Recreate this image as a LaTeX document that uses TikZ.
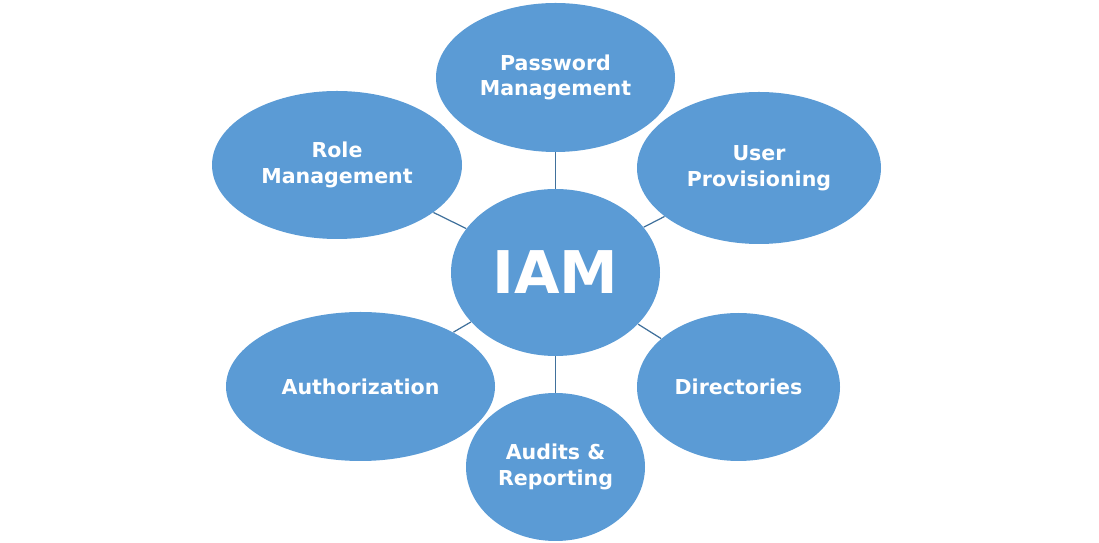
\documentclass[tikz,border=0pt]{standalone}
\usepackage{fontspec}
\setmainfont{DejaVu Sans}
\usetikzlibrary{shapes.geometric}
\definecolor{bubblefill}{HTML}{5B9BD5}
\definecolor{linkline}{HTML}{41719C}

\begin{document}
\begin{tikzpicture}[x=0.02cm, y=-0.02cm,
			every node/.style={font=\fontsize{11.7pt}{14.7pt}\selectfont\bfseries},
			b/.style={ellipse, fill=bubblefill, text=white, inner sep=0pt, align=center},
			link/.style={draw=linkline, line width=0.7pt}]
			\useasboundingbox (0,0) rectangle (1099,543);
			\node[b, minimum width=209*0.02cm, minimum height=167*0.02cm, font=\fontsize{33.5pt}{36pt}\selectfont\bfseries] (iam) at (555.5,272.5) {IAM};
			\node[b, minimum width=239*0.02cm, minimum height=149*0.02cm] (pw) at (555.5,77.5) {Password\\Management};
			\node[b, minimum width=244*0.02cm, minimum height=152*0.02cm] (up) at (759,168) {User\\Provisioning};
			\node[b, minimum width=203*0.02cm, minimum height=148*0.02cm] (dir) at (738.5,387) {Directories};
			\node[b, minimum width=179*0.02cm, minimum height=148*0.02cm] (aud) at (555.5,467) {Audits \&\\Reporting};
			\node[b, minimum width=269*0.02cm, minimum height=149*0.02cm] (auth) at (360.5,386.5) {Authorization};
			\node[b, minimum width=250*0.02cm, minimum height=148*0.02cm] (role) at (337,165) {Role\\Management};
			\foreach \n in {pw, up, dir, aud, auth, role} \draw[link] (iam) -- (\n);
		\end{tikzpicture}
\end{document}
